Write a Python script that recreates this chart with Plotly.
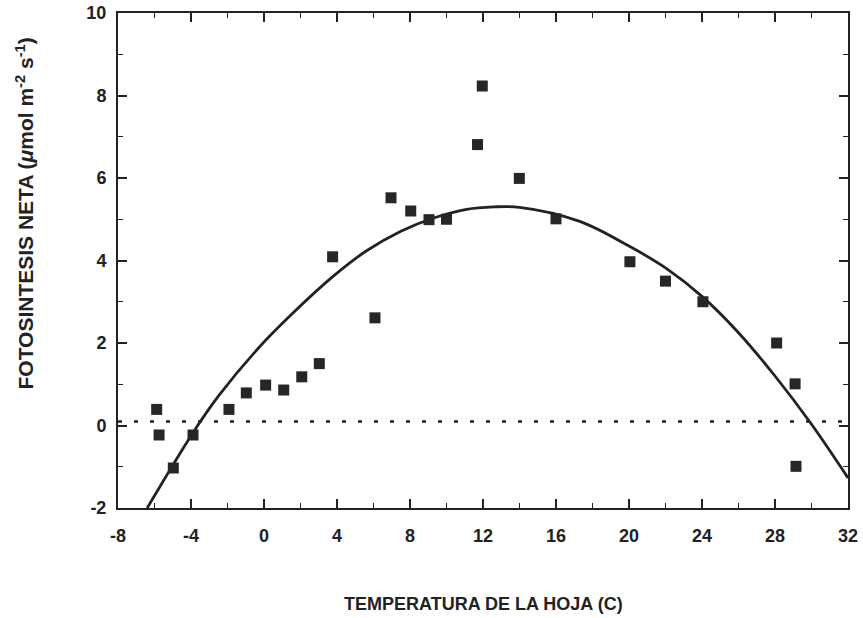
import plotly.graph_objects as go

# Measured leaf temperature (C) and net photosynthesis (umol m-2 s-1)
temp = [-5.88, -5.75, -4.97, -3.89, -1.92, -0.97, 0.09, 1.08, 2.07, 3.03,
        3.76, 6.08, 6.96, 8.04, 9.04, 10.0, 11.7, 11.96, 13.99, 16.0,
        20.05, 22.0, 24.05, 28.09, 29.1, 29.15]
fotosintesis = [0.39, -0.23, -1.03, -0.23, 0.39, 0.79, 0.98, 0.86, 1.18, 1.5,
                4.09, 2.61, 5.52, 5.2, 4.99, 5.0, 6.81, 8.23, 5.99, 5.01,
                3.97, 3.5, 3.0, 2.0, 1.01, -0.99]

# Fitted response curve
curva_x = [-6.4, -3.9, -2.5, -0.3, 1.5, 3.8, 5.6, 7.5, 9.3, 11.1, 12.6, 14.0,
           17.3, 20.0, 22.0, 24.0, 26.0, 28.0, 30.0, 32.0]
curva_y = [-2.0, -0.18, 0.71, 1.88, 2.69, 3.62, 4.23, 4.71, 5.03, 5.24, 5.30, 5.29,
           4.95, 4.35, 3.82, 3.13, 2.25, 1.2, 0.03, -1.27]

# Compensation reference level
ref_x = [-8, 32]
ref_y = [0.1, 0.1]

x_ticks = [-8, -4, 0, 4, 8, 12, 16, 20, 24, 28, 32]
y_ticks = [-2, 0, 2, 4, 6, 8, 10]

ink = "#222222"
font_family = "Liberation Sans, Arial, sans-serif"

fig = go.Figure()

fig.add_trace(go.Scatter(
    x=ref_x, y=ref_y, mode="lines",
    line=dict(color=ink, width=2.5, dash="4px,12px"),
    hoverinfo="skip", showlegend=False,
))

fig.add_trace(go.Scatter(
    x=curva_x, y=curva_y, mode="lines",
    line=dict(color=ink, width=2.8, shape="spline", smoothing=1.0),
    showlegend=False,
))

fig.add_trace(go.Scatter(
    x=temp, y=fotosintesis, mode="markers",
    marker=dict(symbol="square", size=11, color="#262626",
                line=dict(width=0)),
    showlegend=False,
))

axis_common = dict(
    showline=True, linecolor=ink, linewidth=2, mirror="allticks",
    ticks="inside", tickcolor=ink, tickwidth=1.5, ticklen=9,
    showgrid=False, zeroline=False, automargin=False,
    tickfont=dict(family=font_family, size=18, color=ink, weight=700),
)

fig.update_xaxes(
    range=[-8, 32], tickvals=x_ticks, ticktext=[str(v) for v in x_ticks],
    minor=dict(dtick=2, tick0=-8, ticks="inside", ticklen=5, tickwidth=1.2, tickcolor=ink),
    ticklabelstandoff=10,
    **axis_common,
)
fig.update_yaxes(
    range=[-2, 10], tickvals=y_ticks, ticktext=[str(v) for v in y_ticks],
    minor=dict(dtick=1, tick0=-2, ticks="inside", ticklen=5, tickwidth=1.2, tickcolor=ink),
    ticklabelstandoff=6,
    **axis_common,
)

fig.add_annotation(
    text="TEMPERATURA DE LA HOJA (C)",
    xref="paper", yref="paper", x=0.5, y=-0.194,
    xanchor="center", yanchor="middle", showarrow=False,
    font=dict(family=font_family, size=18, color=ink, weight=700),
)
fig.add_annotation(
    text="FOTOSINTESIS NETA (<i>\u03bc</i>mol m<sup>-2</sup> s<sup>-1</sup>)",
    xref="paper", yref="paper", x=-0.128, y=0.594,
    xanchor="center", yanchor="middle", showarrow=False, textangle=-90,
    font=dict(family=font_family, size=21, color=ink, weight=700),
)

fig.update_layout(
    width=863, height=618,
    margin=dict(l=118, r=15, t=13, b=110),
    paper_bgcolor="white", plot_bgcolor="white",
)

fig.write_html("out.html")
